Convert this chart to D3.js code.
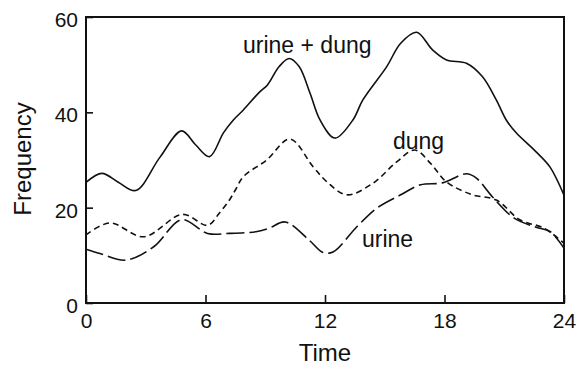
<!DOCTYPE html>
<html>
<head>
<meta charset="utf-8">
<script src="https://cdn.jsdelivr.net/npm/d3@7"></script>
<style>
  html, body { margin: 0; padding: 0; background: #fff; }
  svg { display: block; }
  text { font-family: "Liberation Sans", Arial, Helvetica, sans-serif; fill: #111; }
</style>
</head>
<body>
<svg id="chart" width="583" height="367"></svg>
<script>
// ---- data ----
const xTicks = [0, 6, 12, 18, 24];
const yTicks = [0, 20, 40, 60];

const urineDungTime = [0, 0.8, 1.6, 2.5, 3.7, 4.8, 5.5, 6.2, 6.9, 7.4, 7.9, 8.7, 9.1, 9.7, 10.2, 10.7, 11.25, 11.75, 12.5, 13.4, 13.9, 15.1, 15.8, 16.6, 17.4, 18.1, 19.1, 19.9, 20.6, 21.1, 21.6, 22.6, 23.3, 24];
const urineDungFreq = [25.3, 27.2, 25.4, 23.6, 30.5, 36.1, 33.2, 30.7, 35.7, 38.4, 40.5, 44.2, 45.7, 49.6, 51.3, 49.6, 44, 38.4, 34.6, 38.4, 42.6, 49.6, 54.5, 56.8, 53.1, 51, 50.3, 47.5, 42.6, 38.4, 35.7, 31.7, 28.5, 22.6];

const dungTime = [0, 1.2, 2.9, 4.85, 6.1, 6.7, 7.2, 7.5, 7.9, 9.07, 10.24, 11.4, 12.1, 13.1, 14.4, 15.6, 16.5, 17.3, 18.1, 19.4, 20.6, 21.8, 23, 24];
const dungFreq = [14.3, 16.8, 13.9, 18.6, 16.3, 18.9, 21.6, 23.7, 26.5, 30, 34.4, 28.6, 25.4, 22.7, 25.1, 29.6, 32.1, 29.3, 25.4, 22.7, 21.6, 17.4, 15.7, 12.5];

const urineTime = [0, 0.7, 2, 3.4, 4.8, 6.1, 7.2, 8.6, 9.2, 10, 11.2, 11.9, 12.4, 13.6, 14.6, 15.8, 16.8, 17.9, 19.1, 19.6, 20.4, 21.5, 22.6, 23.3, 24];
const urineFreq = [11.3, 10.4, 9.0, 11.8, 17.5, 14.6, 14.6, 15.0, 15.7, 17, 13.2, 10.6, 10.7, 16, 19.9, 22.7, 24.8, 25.2, 27.1, 26.2, 22.3, 17.8, 15.9, 15, 11.5];

const seriesNames = ["urine + dung", "dung", "urine"];

// ---- layout ----
const svg = d3.select("#chart");
const L = 86, R = 564, T = 17, B = 303;

const x = d3.scaleLinear().domain([0, 24]).range([L, R]);
const y = d3.scaleLinear().domain([0, 60]).range([B, T]);

// frame
svg.append("rect")
  .attr("x", L).attr("y", T).attr("width", R - L).attr("height", B - T)
  .attr("fill", "none").attr("stroke", "#111").attr("stroke-width", 2);

// axes
const xAxis = d3.axisBottom(x).tickValues(xTicks).tickFormat(d3.format("d"))
  .tickSizeInner(-8).tickSizeOuter(0).tickPadding(10);
const gx = svg.append("g").attr("transform", `translate(0,${B})`).call(xAxis);
gx.select(".domain").remove();
gx.selectAll(".tick line").attr("stroke", "#111").attr("stroke-width", 1.6);
gx.selectAll(".tick text").attr("font-size", 21).attr("fill", "#111")
  .style("font-family", '"Liberation Sans", Arial, sans-serif');

const yAxis = d3.axisLeft(y).tickValues(yTicks).tickFormat(d3.format("d"))
  .tickSizeInner(-7).tickSizeOuter(0).tickPadding(8);
const gy = svg.append("g").attr("transform", `translate(${L},0)`).call(yAxis);
gy.select(".domain").remove();
gy.selectAll(".tick line").attr("stroke", "#111").attr("stroke-width", 1.6);
gy.selectAll(".tick text").attr("font-size", 21).attr("fill", "#111").attr("dy", "0.45em")
  .style("font-family", '"Liberation Sans", Arial, sans-serif');

// axis titles
svg.append("text").attr("x", 325).attr("y", 361).attr("text-anchor", "middle")
  .attr("font-size", 24).text("Time");
svg.append("text").attr("transform", "translate(31,159) rotate(-90)")
  .attr("text-anchor", "middle").attr("font-size", 24).text("Frequency");

// lines
const line = d3.line().x(d => x(d[0])).y(d => y(d[1])).curve(d3.curveCatmullRom.alpha(0.5));
const series = [
  { t: urineDungTime, v: urineDungFreq, dash: null },
  { t: dungTime, v: dungFreq, dash: "6,4" },
  { t: urineTime, v: urineFreq, dash: "18,5" }
];
series.forEach(s => {
  svg.append("path")
    .datum(d3.zip(s.t, s.v))
    .attr("d", line)
    .attr("fill", "none")
    .attr("stroke", "#111")
    .attr("stroke-width", 1.6)
    .attr("stroke-dasharray", s.dash);
});

// series labels
const labelPos = [[243, 53], [393, 149], [362, 247]];
seriesNames.forEach((n, i) => {
  svg.append("text").attr("x", labelPos[i][0]).attr("y", labelPos[i][1])
    .attr("font-size", 23).text(n);
});
</script>
</body>
</html>
